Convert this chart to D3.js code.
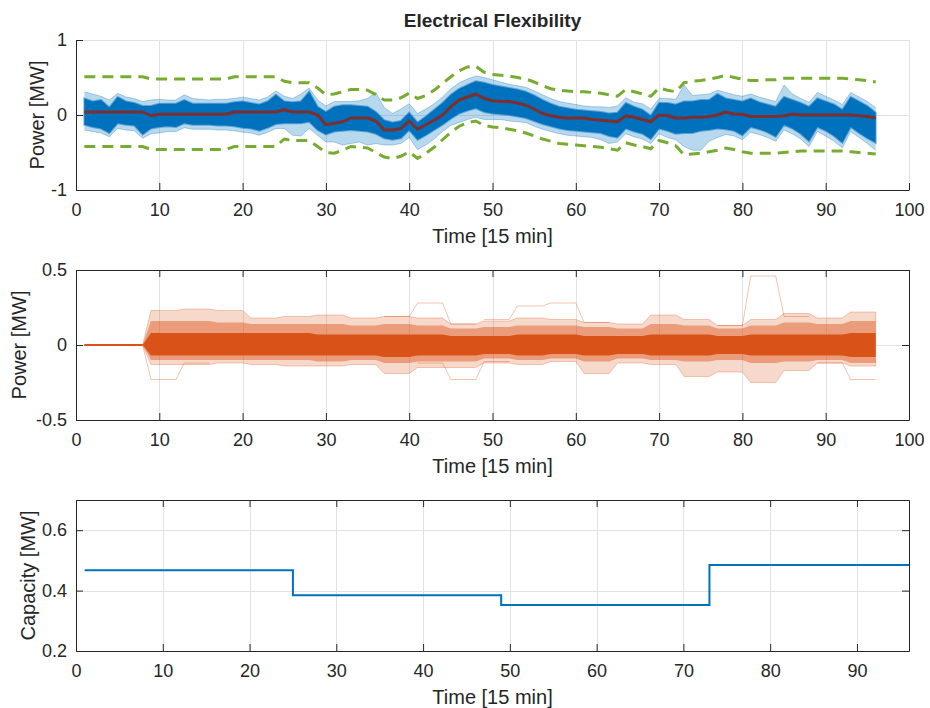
<!DOCTYPE html>
<html>
<head>
<meta charset="utf-8">
<script src="https://cdn.jsdelivr.net/npm/d3@7"></script>
<style>
body { margin: 0; background: #fff; }
svg text { font-family: "Liberation Sans", Arial, Helvetica, sans-serif; fill: #262626; }
</style>
</head>
<body>
<script>
// ---------- data ----------
// time steps 1..96 (15 min)
const times = d3.range(1, 97);

// top panel: mean of the scenarios (dark red)
const meanPower = [
  0.04, 0.04, 0.04, 0.04, 0.04, 0.04, 0.04, 0.04, -0.01, 0.01, 0.01, 0.01,
  0.01, 0.01, 0.01, 0.01, 0.01, 0.01, 0.04, 0.04, 0.04, 0.04, 0.04, 0.04,
  0.07, 0.04, 0.04, 0.04, 0.00, -0.13, -0.11, -0.09, -0.04, -0.04, -0.04, -0.08,
  -0.20, -0.20, -0.18, -0.08, -0.19, -0.13, -0.07, 0.00, 0.11, 0.20, 0.24, 0.28,
  0.22, 0.19, 0.18, 0.18, 0.16, 0.13, 0.08, 0.02, -0.01, -0.03, -0.04, -0.04,
  -0.04, -0.06, -0.07, -0.08, -0.09, -0.01, -0.03, -0.06, -0.09, 0.00, -0.01, -0.04,
  -0.04, -0.03, -0.03, -0.02, 0.00, 0.04, 0.01, 0.01, -0.02, -0.02, -0.02, -0.02,
  -0.01, 0.01, 0.00, 0.00, 0.00, 0.00, 0.00, 0.00, 0.00, -0.01, -0.02, -0.04
];

// top panel: green dashed bounds
const upperBound = [
  0.51, 0.51, 0.51, 0.51, 0.51, 0.51, 0.51, 0.51, 0.48, 0.48, 0.48, 0.48,
  0.48, 0.48, 0.48, 0.48, 0.48, 0.48, 0.51, 0.51, 0.51, 0.51, 0.51, 0.51,
  0.45, 0.43, 0.43, 0.43, 0.36, 0.27, 0.28, 0.31, 0.34, 0.34, 0.33, 0.27,
  0.20, 0.20, 0.23, 0.29, 0.22, 0.26, 0.33, 0.42, 0.51, 0.59, 0.64, 0.65,
  0.57, 0.54, 0.53, 0.52, 0.50, 0.48, 0.44, 0.39, 0.35, 0.33, 0.32, 0.31,
  0.31, 0.30, 0.29, 0.27, 0.25, 0.34, 0.31, 0.28, 0.25, 0.36, 0.33, 0.31,
  0.43, 0.45, 0.46, 0.48, 0.50, 0.53, 0.50, 0.48, 0.46, 0.46, 0.47, 0.47,
  0.49, 0.49, 0.49, 0.49, 0.49, 0.49, 0.49, 0.49, 0.48, 0.47, 0.46, 0.44
];
const lowerBound = [
  -0.42, -0.42, -0.42, -0.42, -0.42, -0.42, -0.42, -0.42, -0.46, -0.46, -0.46, -0.46,
  -0.46, -0.46, -0.46, -0.46, -0.46, -0.46, -0.42, -0.42, -0.42, -0.42, -0.42, -0.42,
  -0.32, -0.34, -0.34, -0.34, -0.42, -0.50, -0.51, -0.47, -0.42, -0.43, -0.44, -0.50,
  -0.56, -0.58, -0.55, -0.49, -0.58, -0.51, -0.43, -0.33, -0.23, -0.15, -0.10, -0.08,
  -0.14, -0.16, -0.17, -0.19, -0.21, -0.24, -0.28, -0.32, -0.35, -0.38, -0.39, -0.40,
  -0.41, -0.42, -0.43, -0.45, -0.47, -0.37, -0.40, -0.42, -0.45, -0.34, -0.37, -0.41,
  -0.53, -0.52, -0.51, -0.49, -0.47, -0.44, -0.46, -0.49, -0.51, -0.51, -0.51, -0.51,
  -0.50, -0.49, -0.48, -0.48, -0.48, -0.48, -0.48, -0.48, -0.49, -0.50, -0.51, -0.52
];

// top panel: envelope of the dense scenario core and of the faint outer scenarios
const coreHi = [
  0.22, 0.18, 0.20, 0.10, 0.24, 0.18, 0.16, 0.12, 0.12, 0.15, 0.15, 0.15,
  0.20, 0.15, 0.15, 0.15, 0.15, 0.15, 0.17, 0.18, 0.16, 0.14, 0.18, 0.27,
  0.18, 0.17, 0.18, 0.31, 0.11, 0.04, 0.11, 0.13, 0.13, 0.12, 0.11, 0.04,
  -0.07, -0.10, -0.08, 0.03, -0.10, -0.02, 0.07, 0.16, 0.27, 0.35, 0.40, 0.45,
  0.43, 0.40, 0.38, 0.36, 0.34, 0.31, 0.26, 0.20, 0.15, 0.11, 0.09, 0.07,
  0.06, 0.05, 0.04, 0.02, 0.03, 0.16, 0.11, 0.07, -0.01, 0.16, 0.16, 0.14,
  0.18, 0.18, 0.20, 0.20, 0.28, 0.22, 0.20, 0.18, 0.22, 0.17, 0.14, 0.11,
  0.24, 0.20, 0.16, 0.11, 0.22, 0.18, 0.14, 0.07, 0.24, 0.18, 0.12, 0.03
];
const coreLo = [
  -0.13, -0.16, -0.18, -0.24, -0.11, -0.13, -0.14, -0.26, -0.18, -0.16, -0.15, -0.16,
  -0.11, -0.13, -0.13, -0.13, -0.14, -0.14, -0.15, -0.17, -0.18, -0.21, -0.17, -0.12,
  -0.11, -0.11, -0.11, -0.09, -0.20, -0.26, -0.22, -0.21, -0.20, -0.21, -0.22, -0.25,
  -0.31, -0.33, -0.31, -0.20, -0.33, -0.27, -0.20, -0.13, -0.05, 0.02, 0.06, 0.09,
  0.04, 0.02, 0.01, 0.00, -0.02, -0.04, -0.08, -0.12, -0.15, -0.18, -0.20, -0.21,
  -0.22, -0.23, -0.24, -0.28, -0.30, -0.18, -0.22, -0.25, -0.32, -0.18, -0.21, -0.25,
  -0.24, -0.24, -0.21, -0.20, -0.18, -0.19, -0.21, -0.27, -0.16, -0.19, -0.23, -0.29,
  -0.13, -0.18, -0.25, -0.35, -0.16, -0.21, -0.28, -0.37, -0.16, -0.24, -0.31, -0.37
];
const fringeHi = [
  0.31, 0.28, 0.25, 0.20, 0.29, 0.24, 0.22, 0.18, 0.20, 0.21, 0.20, 0.20,
  0.27, 0.22, 0.21, 0.20, 0.21, 0.21, 0.22, 0.24, 0.22, 0.20, 0.24, 0.32,
  0.25, 0.22, 0.28, 0.36, 0.20, 0.12, 0.18, 0.18, 0.18, 0.19, 0.22, 0.30,
  0.10, 0.02, 0.08, 0.15, 0.02, 0.08, 0.15, 0.24, 0.35, 0.43, 0.48, 0.52,
  0.50, 0.47, 0.44, 0.41, 0.39, 0.37, 0.32, 0.27, 0.22, 0.18, 0.16, 0.14,
  0.12, 0.11, 0.11, 0.10, 0.12, 0.23, 0.17, 0.15, 0.08, 0.22, 0.22, 0.21,
  0.40, 0.26, 0.27, 0.28, 0.33, 0.30, 0.27, 0.25, 0.28, 0.24, 0.21, 0.18,
  0.40, 0.28, 0.22, 0.17, 0.30, 0.25, 0.20, 0.14, 0.30, 0.24, 0.18, 0.10
];
const fringeLo = [
  -0.20, -0.22, -0.24, -0.29, -0.18, -0.20, -0.21, -0.31, -0.25, -0.24, -0.22, -0.22,
  -0.17, -0.19, -0.19, -0.19, -0.20, -0.20, -0.21, -0.23, -0.24, -0.27, -0.23, -0.18,
  -0.18, -0.27, -0.28, -0.18, -0.27, -0.36, -0.36, -0.40, -0.38, -0.36, -0.40, -0.38,
  -0.40, -0.40, -0.38, -0.30, -0.46, -0.40, -0.32, -0.22, -0.14, -0.10, -0.06, -0.03,
  -0.06, -0.06, -0.06, -0.08, -0.09, -0.10, -0.15, -0.19, -0.22, -0.25, -0.27, -0.28,
  -0.29, -0.30, -0.33, -0.38, -0.36, -0.25, -0.29, -0.32, -0.38, -0.25, -0.30, -0.33,
  -0.42, -0.47, -0.47, -0.35, -0.30, -0.26, -0.28, -0.33, -0.23, -0.26, -0.30, -0.35,
  -0.20, -0.25, -0.32, -0.42, -0.22, -0.28, -0.35, -0.44, -0.22, -0.30, -0.38, -0.47
];

// middle panel: hourly blocks (start step) and band extents per block
const blockStart = [9, 13, 17, 21, 25, 29, 33, 37, 41, 45, 49, 53, 57, 61, 65, 69, 73, 77, 81, 85, 89, 93];
const orOuterHi = [0.23, 0.24, 0.23, 0.18, 0.19, 0.20, 0.18, 0.19, 0.18, 0.14, 0.16, 0.18, 0.17, 0.15, 0.14, 0.20, 0.17, 0.13, 0.17, 0.21, 0.18, 0.22];
const orMidHi   = [0.16, 0.16, 0.15, 0.14, 0.14, 0.14, 0.13, 0.14, 0.13, 0.11, 0.12, 0.13, 0.13, 0.12, 0.11, 0.14, 0.13, 0.11, 0.13, 0.15, 0.14, 0.16];
const orCoreHi  = [0.08, 0.08, 0.08, 0.08, 0.08, 0.07, 0.07, 0.07, 0.07, 0.06, 0.06, 0.07, 0.07, 0.06, 0.06, 0.07, 0.07, 0.06, 0.07, 0.07, 0.07, 0.08];
const orCoreLo  = [-0.07, -0.07, -0.07, -0.07, -0.07, -0.07, -0.07, -0.08, -0.07, -0.07, -0.06, -0.07, -0.06, -0.07, -0.06, -0.07, -0.07, -0.06, -0.07, -0.07, -0.07, -0.08];
const orMidLo   = [-0.10, -0.10, -0.10, -0.10, -0.10, -0.11, -0.10, -0.12, -0.11, -0.11, -0.09, -0.10, -0.09, -0.11, -0.09, -0.10, -0.11, -0.10, -0.12, -0.11, -0.10, -0.12];
const orOuterLo = [-0.13, -0.13, -0.12, -0.13, -0.14, -0.14, -0.13, -0.19, -0.15, -0.15, -0.12, -0.13, -0.11, -0.19, -0.12, -0.13, -0.21, -0.18, -0.25, -0.17, -0.12, -0.14];
// single stray scenarios (null = inside the band)
const N = null;
const strayA = [N, N, N, N, N, N, N, 0.19, 0.28, 0.14, N, N, N, N, N, N, N, N, N, N, N, N];
const strayB = [N, N, N, N, N, N, N, N, N, N, 0.17, 0.26, 0.28, 0.15, N, N, N, N, N, N, N, N];
const strayC = [N, N, N, N, N, N, N, N, N, N, N, N, N, N, N, N, N, 0.13, 0.46, 0.19, N, N];
const strayD = [-0.23, -0.12, N, N, N, N, N, N, N, N, N, N, N, N, N, N, N, N, N, N, N, N];
const strayE = [N, N, N, N, N, N, N, N, -0.12, -0.23, -0.11, N, N, N, N, N, N, N, N, N, N, N];
const strayF = [N, N, N, N, N, N, N, N, N, N, N, N, N, N, N, N, N, N, N, N, -0.12, -0.23];

// bottom panel: capacity steps
const capStart = [1, 25, 49, 73, 96];
const capValue = [0.467, 0.385, 0.352, 0.485, 0.485];

// ---------- drawing ----------
const blue = "#0072BD", orange = "#D95319", green = "#77AC30", darkRed = "#7d2e2e";
const axisColor = "#262626", gridColor = "#e2e2e2";
const xLeft = 76, xRight = 909;

const svg = d3.select("body").append("svg")
    .attr("width", 930)
    .attr("height", 708);

function setupPanel(opt) {
    const x = d3.scaleLinear().domain(opt.xDomain).range([xLeft, xRight]);
    const y = d3.scaleLinear().domain(opt.yDomain).range([opt.bottom, opt.top]);
    const grid = svg.append("g");
    grid.selectAll("line.v").data(opt.xGrid).enter().append("line")
        .attr("x1", d => Math.round(x(d)) + 0.5).attr("x2", d => Math.round(x(d)) + 0.5)
        .attr("y1", opt.top).attr("y2", opt.bottom)
        .attr("stroke", gridColor);
    grid.selectAll("line.h").data(opt.yGrid).enter().append("line")
        .attr("y1", d => Math.round(y(d)) + 0.5).attr("y2", d => Math.round(y(d)) + 0.5)
        .attr("x1", xLeft).attr("x2", xRight)
        .attr("stroke", gridColor);
    return { x, y, opt };
}

function finishPanel(p) {
    const { x, y, opt } = p;
    const fmt = d => String(d);
    const axes = [];
    axes.push(svg.append("g").attr("transform", "translate(0," + opt.bottom + ")")
        .call(d3.axisBottom(x).tickValues(opt.xTicks).tickFormat(fmt)
            .tickSizeInner(-7).tickSizeOuter(0).tickPadding(13)));
    axes.push(svg.append("g").attr("transform", "translate(" + xLeft + ",0)")
        .call(d3.axisLeft(y).tickValues(opt.yTicks).tickFormat(fmt)
            .tickSizeInner(-7).tickSizeOuter(0).tickPadding(9)));
    if (opt.box) {
        axes.push(svg.append("g").attr("transform", "translate(0," + opt.top + ")")
            .call(d3.axisTop(x).tickValues(opt.xTicks).tickFormat("")
                .tickSizeInner(-7).tickSizeOuter(0)));
        axes.push(svg.append("g").attr("transform", "translate(" + xRight + ",0)")
            .call(d3.axisRight(y).tickValues(opt.yTicks).tickFormat("")
                .tickSizeInner(-7).tickSizeOuter(0)));
    }
    axes.forEach(a => {
        a.attr("font-family", null).attr("font-size", null);
        a.selectAll("path, line").attr("stroke", axisColor);
        a.selectAll("text").style("font-size", "18px").attr("fill", axisColor);
    });

    svg.append("text")
        .attr("x", (xLeft + xRight) / 2)
        .attr("y", opt.bottom + 53)
        .attr("text-anchor", "middle")
        .style("font-size", "20px")
        .text("Time [15 min]");

    svg.append("text")
        .attr("transform", "translate(" + opt.ylabelX + "," + (opt.top + opt.bottom) / 2 + ") rotate(-90)")
        .attr("text-anchor", "middle")
        .attr("dy", "0.35em")
        .style("font-size", "20px")
        .text(opt.ylabel);
}

const tenTicks = d3.range(0, 101, 10);

// ----- top: electrical flexibility scenarios -----
const pTop = setupPanel({
    top: 40, bottom: 190, xDomain: [0, 100], yDomain: [-1, 1],
    xGrid: tenTicks.slice(1), yGrid: [0, 1]
});
const idx = d3.range(times.length);
const xt = i => pTop.x(times[i]);

svg.append("path").datum(idx)
    .attr("d", d3.area().x(xt).y0(i => pTop.y(fringeLo[i])).y1(i => pTop.y(fringeHi[i])))
    .attr("fill", blue).attr("fill-opacity", 0.28);
[fringeHi, fringeLo].forEach(arr => {
    svg.append("path").datum(idx)
        .attr("d", d3.line().x(xt).y(i => pTop.y(arr[i])))
        .attr("fill", "none").attr("stroke", blue).attr("stroke-opacity", 0.3).attr("stroke-width", 1);
});
svg.append("path").datum(idx)
    .attr("d", d3.area().x(xt).y0(i => pTop.y(coreLo[i])).y1(i => pTop.y(coreHi[i])))
    .attr("fill", blue).attr("stroke", blue).attr("stroke-opacity", 0.5).attr("stroke-width", 2);

[upperBound, lowerBound].forEach(arr => {
    svg.append("path").datum(idx)
        .attr("d", d3.line().x(xt).y(i => pTop.y(arr[i])))
        .attr("fill", "none").attr("stroke", green).attr("stroke-width", 3)
        .attr("stroke-dasharray", "11,7");
});
svg.append("path").datum(idx)
    .attr("d", d3.line().x(xt).y(i => pTop.y(meanPower[i])))
    .attr("fill", "none").attr("stroke", darkRed).attr("stroke-width", 3)
    .attr("stroke-linejoin", "round");

finishPanel(Object.assign(pTop, { opt: Object.assign(pTop.opt, {
    xTicks: tenTicks, yTicks: [-1, 0, 1], box: false, ylabel: "Power [MW]", ylabelX: 37
}) }));

svg.append("text")
    .attr("x", (xLeft + xRight) / 2)
    .attr("y", 27)
    .attr("text-anchor", "middle")
    .style("font-size", "19px")
    .style("font-weight", "bold")
    .attr("fill", "#000")
    .text("Electrical Flexibility");

// ----- middle: hourly blocks -----
const pMid = setupPanel({
    top: 270, bottom: 420, xDomain: [0, 100], yDomain: [-0.5, 0.5],
    xGrid: tenTicks.slice(1), yGrid: [0]
});

// points of a per-block series: zero until step 8, then flat over each block
function blockPoints(vals, withLead) {
    const pts = [];
    if (withLead) { pts.push({ t: 1, v: 0 }); pts.push({ t: 8, v: 0 }); }
    blockStart.forEach((s, k) => {
        pts.push({ t: s, v: vals[k] });
        pts.push({ t: s + 3, v: vals[k] });
    });
    return pts;
}
function bandPoints(lo, hi) {
    const a = blockPoints(lo, true), b = blockPoints(hi, true);
    return a.map((d, i) => ({ t: d.t, lo: d.v, hi: b[i].v }));
}
const band = d3.area().x(d => pMid.x(d.t)).y0(d => pMid.y(d.lo)).y1(d => pMid.y(d.hi));

svg.append("path").datum(bandPoints(orOuterLo, orOuterHi))
    .attr("d", band).attr("fill", orange).attr("fill-opacity", 0.22)
    .attr("stroke", orange).attr("stroke-opacity", 0.3).attr("stroke-width", 1);
svg.append("path").datum(bandPoints(orMidLo, orMidHi))
    .attr("d", band).attr("fill", orange).attr("fill-opacity", 0.45);
svg.append("path").datum(bandPoints(orCoreLo, orCoreHi))
    .attr("d", band).attr("fill", orange);

const strayLine = d3.line().defined(d => d.v !== null)
    .x(d => pMid.x(d.t)).y(d => pMid.y(d.v));
[strayA, strayB, strayC, strayD, strayE, strayF].forEach(s => {
    svg.append("path").datum(blockPoints(s, s[0] !== null))
        .attr("d", strayLine)
        .attr("fill", "none").attr("stroke", orange).attr("stroke-opacity", 0.35).attr("stroke-width", 1);
});
svg.append("path").datum([{ t: 1, v: 0 }, { t: 8, v: 0 }])
    .attr("d", strayLine).attr("fill", "none").attr("stroke", orange).attr("stroke-width", 2);

finishPanel(Object.assign(pMid, { opt: Object.assign(pMid.opt, {
    xTicks: tenTicks, yTicks: [-0.5, 0, 0.5], box: true, ylabel: "Power [MW]", ylabelX: 19
}) }));

// ----- bottom: capacity -----
const pBot = setupPanel({
    top: 500, bottom: 651, xDomain: [0, 96], yDomain: [0.2, 0.7],
    xGrid: d3.range(10, 91, 10), yGrid: [0.4, 0.6]
});
svg.append("path").datum(capStart.map((t, i) => ({ t: t, v: capValue[i] })))
    .attr("d", d3.line().curve(d3.curveStepAfter).x(d => pBot.x(d.t)).y(d => pBot.y(d.v)))
    .attr("fill", "none").attr("stroke", blue).attr("stroke-width", 2);

finishPanel(Object.assign(pBot, { opt: Object.assign(pBot.opt, {
    xTicks: d3.range(0, 91, 10), yTicks: [0.2, 0.4, 0.6], box: true, ylabel: "Capacity [MW]", ylabelX: 28
}) }));
</script>
</body>
</html>
